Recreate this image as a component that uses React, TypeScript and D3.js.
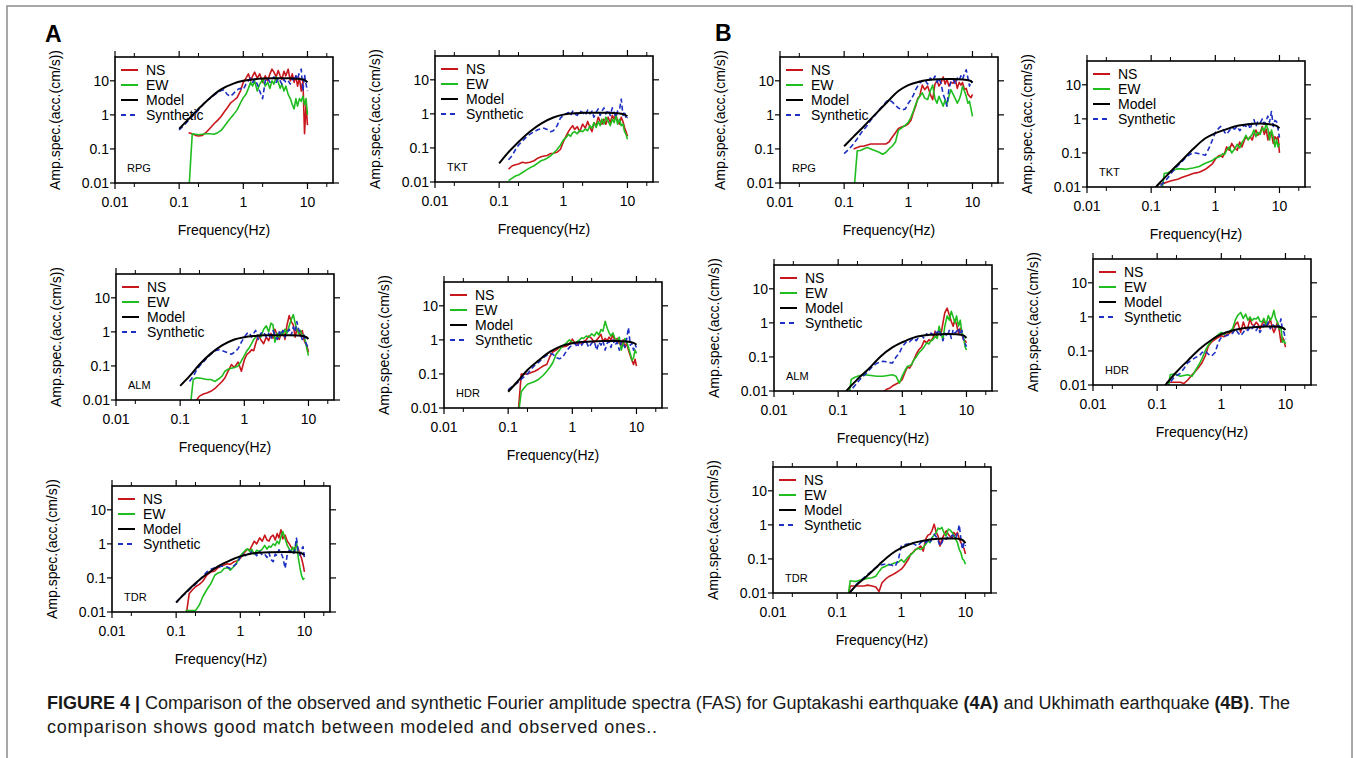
import React from 'react';
import * as d3 from 'd3';

// frequency grid (Hz) shared by the observed and synthetic spectra
const FREQ = [0.1, 0.12, 0.14, 0.16, 0.18, 0.2, 0.23, 0.26, 0.3, 0.35, 0.4, 0.45, 0.5, 0.56, 0.63, 0.7, 0.8, 0.9, 1, 1.1, 1.2, 1.3, 1.4, 1.5, 1.65, 1.8, 2, 2.2, 2.4, 2.6, 2.8, 3, 3.25, 3.5, 3.75, 4, 4.3, 4.6, 5, 5.4, 5.8, 6.2, 6.6, 7, 7.5, 8, 8.5, 9, 9.5, 10];
// frequency grid of the model curves
const MODEL_FREQ = [0.1, 0.14, 0.2, 0.3, 0.45, 0.7, 1, 1.5, 2, 3, 5, 7, 9, 10];

const X_TICKS = [0.01, 0.1, 1, 10];
const X_TICK_LABELS = ['0.01', '0.1', '1', '10'];
const X_MINOR = [0.02, 0.2, 2, 20];
const Y_TICKS = [0.01, 0.1, 1, 10];
const Y_TICK_LABELS = ['0.01', '0.1', '1', '10'];
const LEGEND = ['NS', 'EW', 'Model', 'Synthetic'];

// ---- Guptakashi earthquake (A) ----
const A_RPG_NS = [null, null, 0.3, 0.28, 0.25, 0.24, 0.25, 0.3, 0.4, 0.55, 0.7, 0.9, 1.2, 1.6, 2.2, 2.6, 3.2, 5, 9, 12, 16, 10, 14, 18, 12, 16, 9, 14, 10, 16, 22, 18, 13, 20, 14, 11, 19, 14, 22, 10, 16, 9, 14, 7, 12, 5, 10, 0.28, 2, 0.5];
const A_RPG_EW = [null, null, 0.004, 0.28, 0.27, 0.26, 0.27, 0.28, 0.28, 0.27, 0.3, 0.35, 0.45, 0.6, 0.8, 1.0, 1.4, 2.2, 3.2, 4, 6, 9, 7, 10, 5, 8, 11, 7, 9, 6, 10, 8, 13, 9, 6, 8, 5, 7, 4, 3, 2, 1.5, 3, 1.8, 3, 2.5, 3.5, 2, 3, 1];
const A_RPG_SYN = [0.36, 0.5, 0.7, 0.9, 1.1, 1.4, 1.9, 2.5, 3.0, 3.8, 4.6, 5.2, 5.5, 4.0, 3.5, 4.2, 5.5, 6, 5.5, 8, 10, 12, 9, 11, 8, 5, 3, 10, 12, 9, 11, 13, 9, 12, 10, 8, 11, 9, 10, 8, 12, 10, 14, 11, 18, 22, 5, 15, 8, 5];
const A_RPG_MODEL = [0.39, 0.75, 1.5, 3.1, 5.6, 8.3, 10, 11.2, 11.6, 11.8, 11.8, 11.5, 10.5, 9];

const A_TKT_NS = [null, null, 0.024, 0.03, 0.032, 0.034, 0.038, 0.036, 0.038, 0.042, 0.05, 0.055, 0.058, 0.06, 0.068, 0.07, 0.075, 0.09, 0.15, 0.22, 0.3, 0.38, 0.45, 0.35, 0.42, 0.3, 0.5, 0.38, 0.6, 0.4, 0.3, 0.55, 0.45, 0.8, 0.6, 0.5, 0.7, 0.5, 0.8, 0.55, 0.9, 0.7, 1.0, 0.6, 0.5, 0.8, 0.6, 0.4, 0.3, 0.22];
const A_TKT_EW = [null, null, 0.011, 0.013, 0.015, 0.016, 0.019, 0.022, 0.026, 0.03, 0.036, 0.042, 0.045, 0.05, 0.058, 0.07, 0.09, 0.12, 0.17, 0.2, 0.25, 0.22, 0.28, 0.3, 0.26, 0.33, 0.3, 0.36, 0.32, 0.45, 0.38, 0.55, 0.4, 0.6, 0.45, 0.7, 0.5, 0.8, 0.6, 0.45, 0.7, 0.55, 0.9, 0.5, 0.7, 0.45, 0.5, 0.3, 0.25, 0.18];
const A_TKT_SYN = [null, null, 0.045, 0.06, 0.09, 0.12, 0.16, 0.2, 0.25, 0.3, 0.34, 0.37, 0.38, 0.35, 0.3, 0.32, 0.45, 0.75, 0.9, 1.0, 1.1, 0.9, 1.2, 1.0, 0.9, 1.2, 1.1, 0.9, 1.3, 1.0, 1.2, 0.8, 1.1, 1.4, 0.9, 1.2, 1.5, 1.0, 1.3, 0.9, 1.5, 1.1, 0.8, 1.2, 1.3, 2.7, 0.9, 1.2, 0.7, 0.8];
const A_TKT_MODEL = [0.035, 0.075, 0.15, 0.3, 0.52, 0.78, 0.95, 1.05, 1.07, 1.08, 1.08, 1.05, 0.95, 0.85];

const A_ALM_NS = [null, null, 0.005, 0.008, 0.01, 0.013, 0.015, 0.016, 0.018, 0.022, 0.028, 0.035, 0.045, 0.07, 0.11, 0.09, 0.13, 0.07, 0.15, 0.22, 0.25, 0.3, 0.28, 0.45, 0.8, 0.6, 0.45, 0.7, 0.55, 0.9, 0.65, 1.2, 0.8, 0.6, 0.9, 1.1, 0.6, 1.5, 3.0, 2.0, 1.6, 0.7, 1.2, 1.0, 0.8, 1.1, 0.6, 0.45, 0.38, 0.25];
const A_ALM_EW = [null, null, 0.004, 0.04, 0.045, 0.044, 0.042, 0.04, 0.04, 0.035, 0.042, 0.05, 0.07, 0.08, 0.085, 0.09, 0.1, 0.14, 0.2, 0.28, 0.35, 0.45, 0.6, 0.7, 0.8, 0.7, 1.2, 1.5, 1.0, 1.8, 1.6, 0.5, 0.9, 0.7, 1.0, 0.8, 1.2, 0.9, 1.5, 2.3, 3.2, 1.8, 1.2, 0.9, 1.1, 0.75, 0.8, 0.5, 0.3, 0.2];
const A_ALM_SYN = [null, null, 0.035, 0.05, 0.075, 0.1, 0.13, 0.17, 0.22, 0.28, 0.3, 0.28, 0.26, 0.24, 0.22, 0.25, 0.32, 0.5, 0.7, 0.9, 0.95, 0.7, 0.9, 1.1, 0.6, 0.9, 1.0, 0.7, 0.9, 0.6, 1.1, 0.8, 0.6, 1.0, 0.8, 1.1, 0.7, 0.9, 1.2, 0.8, 1.4, 1.0, 2.0, 1.2, 0.9, 0.6, 0.8, 0.5, 0.4, 0.3];
const A_ALM_MODEL = [0.026, 0.05, 0.11, 0.23, 0.4, 0.6, 0.7, 0.76, 0.79, 0.8, 0.8, 0.78, 0.72, 0.62];

const A_HDR_NS = [null, null, 0.004, 0.1, 0.1, 0.1, 0.11, 0.12, 0.14, 0.17, 0.19, 0.33, 0.45, 0.5, 0.6, 0.62, 0.65, 0.75, 1.05, 0.8, 0.75, 0.85, 0.8, 0.9, 1.0, 1.3, 1.1, 0.85, 1.0, 1.2, 1.45, 0.9, 1.1, 0.95, 1.2, 1.0, 1.45, 0.9, 1.1, 0.8, 0.7, 1.0, 0.6, 0.8, 0.5, 0.35, 0.25, 0.19, 0.27, 0.17];
const A_HDR_EW = [null, null, 0.004, 0.03, 0.04, 0.05, 0.055, 0.06, 0.07, 0.09, 0.12, 0.16, 0.22, 0.38, 0.5, 0.65, 0.8, 1.0, 0.85, 0.8, 0.9, 1.0, 1.15, 1.1, 1.3, 1.2, 1.5, 1.3, 1.7, 1.4, 2.0, 1.8, 3.5, 2.2, 1.6, 1.3, 1.6, 1.1, 0.9, 1.2, 0.5, 0.8, 1.1, 0.9, 0.6, 0.4, 0.25, 0.3, 0.5, 0.4];
const A_HDR_SYN = [0.034, 0.045, 0.055, 0.07, 0.085, 0.1, 0.14, 0.18, 0.22, 0.3, 0.35, 0.4, 0.38, 0.3, 0.28, 0.3, 0.45, 0.6, 0.7, 0.8, 0.6, 0.9, 0.7, 0.85, 0.9, 0.6, 0.8, 0.9, 0.5, 0.85, 0.7, 0.95, 0.5, 0.8, 0.9, 0.6, 1.0, 0.7, 0.85, 0.5, 0.9, 0.8, 0.6, 1.0, 2.3, 0.7, 0.8, 0.5, 0.7, 0.6];
const A_HDR_MODEL = [0.03, 0.06, 0.13, 0.25, 0.45, 0.68, 0.8, 0.87, 0.9, 0.92, 0.92, 0.9, 0.82, 0.72];

const A_TDR_NS = [null, null, 0.006, 0.035, 0.045, 0.055, 0.065, 0.08, 0.12, 0.15, 0.16, 0.2, 0.22, 0.24, 0.26, 0.25, 0.3, 0.32, 0.38, 0.5, 0.6, 0.7, 0.65, 0.85, 1.2, 1.0, 1.5, 1.2, 1.8, 1.3, 1.2, 1.6, 1.8, 1.3, 2.0, 1.5, 2.6, 1.4, 1.8, 1.2, 1.0, 0.8, 0.7, 0.75, 0.9, 0.7, 0.5, 0.38, 0.25, 0.15];
const A_TDR_EW = [null, null, 0.011, 0.011, 0.011, 0.011, 0.016, 0.028, 0.045, 0.07, 0.12, 0.14, 0.15, 0.19, 0.2, 0.17, 0.22, 0.3, 0.45, 0.55, 0.65, 0.72, 0.6, 0.7, 0.5, 0.65, 0.6, 0.7, 0.9, 0.7, 0.85, 0.8, 1.0, 0.9, 1.2, 1.0, 1.6, 2.3, 1.4, 0.9, 0.7, 0.6, 0.8, 0.55, 1.2, 0.4, 0.2, 0.12, 0.09, 0.1];
const A_TDR_SYN = [0.019, 0.028, 0.035, 0.045, 0.055, 0.065, 0.085, 0.11, 0.15, 0.18, 0.2, 0.21, 0.22, 0.22, 0.21, 0.19, 0.23, 0.27, 0.42, 0.5, 0.45, 0.55, 0.5, 0.6, 0.55, 0.45, 0.6, 0.47, 0.5, 0.4, 0.55, 0.35, 0.3, 0.5, 0.45, 0.67, 0.55, 0.4, 0.19, 0.5, 0.65, 0.6, 0.5, 0.6, 1.47, 0.6, 0.47, 0.7, 0.83, 0.38];
const A_TDR_MODEL = [0.019, 0.037, 0.07, 0.13, 0.22, 0.33, 0.43, 0.52, 0.55, 0.57, 0.58, 0.57, 0.53, 0.47];

// ---- Ukhimath earthquake (B) ----
const B_RPG_NS = [null, null, 0.1, 0.11, 0.12, 0.12, 0.13, 0.14, 0.14, 0.14, 0.14, 0.14, 0.16, 0.22, 0.3, 0.4, 0.45, 0.48, 0.55, 0.7, 1.2, 1.8, 3.0, 3.5, 7.5, 5.5, 7, 4, 2.8, 8, 10, 7, 9, 13, 8, 11, 7, 9, 8.5, 11, 6, 9, 7.5, 9, 5.5, 6, 4, 3.5, 3.2, 4];
const B_RPG_EW = [null, null, 0.004, 0.088, 0.09, 0.1, 0.11, 0.1, 0.09, 0.08, 0.07, 0.08, 0.1, 0.12, 0.16, 0.35, 0.42, 0.5, 0.6, 0.85, 1.3, 2.0, 2.8, 3.5, 4.4, 3.1, 2.8, 5, 7.5, 3, 2.2, 3.5, 2.5, 1.8, 2.8, 2.0, 3.5, 5.5, 4, 3, 2.2, 2.8, 4, 6.9, 5, 3.5, 2.2, 2.5, 1.5, 0.9];
const B_RPG_SYN = [0.073, 0.1, 0.14, 0.2, 0.28, 0.36, 0.5, 0.7, 0.95, 1.4, 1.85, 2.4, 2.8, 2.4, 1.9, 1.6, 1.4, 1.5, 2.2, 2.8, 3.8, 5.5, 7, 8.5, 9.8, 11, 8, 12, 10, 13.8, 9, 12, 8, 4, 2.8, 1.8, 6, 9, 11, 8, 12, 10, 14, 11, 16, 21, 12, 7, 10, 8.7];
const B_RPG_MODEL = [0.12, 0.23, 0.45, 1.0, 2.2, 5, 7.5, 9.5, 10.5, 11.2, 11.3, 11, 10.2, 9];

const B_TKT_NS = [null, null, 0.012, 0.013, 0.014, 0.015, 0.016, 0.017, 0.019, 0.021, 0.023, 0.025, 0.026, 0.027, 0.03, 0.033, 0.04, 0.048, 0.065, 0.08, 0.085, 0.075, 0.1, 0.15, 0.12, 0.19, 0.14, 0.12, 0.21, 0.15, 0.22, 0.3, 0.25, 0.3, 0.24, 0.35, 0.47, 0.33, 0.4, 0.6, 0.35, 0.5, 0.24, 0.4, 0.38, 0.19, 0.3, 0.25, 0.3, 0.1];
const B_TKT_EW = [null, null, 0.004, 0.025, 0.026, 0.028, 0.032, 0.034, 0.034, 0.033, 0.035, 0.036, 0.038, 0.04, 0.045, 0.05, 0.055, 0.06, 0.07, 0.075, 0.08, 0.095, 0.09, 0.12, 0.15, 0.1, 0.13, 0.18, 0.14, 0.2, 0.25, 0.33, 0.24, 0.3, 0.35, 0.47, 0.3, 0.4, 0.35, 0.55, 0.45, 0.7, 0.5, 0.24, 0.47, 0.3, 0.15, 0.25, 0.15, 0.19];
const B_TKT_SYN = [null, null, 0.011, 0.014, 0.018, 0.024, 0.032, 0.042, 0.055, 0.075, 0.09, 0.1, 0.1, 0.095, 0.09, 0.085, 0.14, 0.24, 0.4, 0.5, 0.6, 0.55, 0.4, 0.35, 0.45, 0.55, 0.5, 0.6, 0.45, 0.55, 0.65, 0.6, 0.75, 0.5, 0.8, 0.95, 0.6, 0.85, 0.75, 1.0, 0.7, 0.9, 1.2, 0.8, 1.65, 0.6, 0.9, 0.83, 0.5, 0.28];
const B_TKT_MODEL = [0.007, 0.014, 0.028, 0.06, 0.13, 0.27, 0.38, 0.5, 0.6, 0.68, 0.73, 0.7, 0.62, 0.53];

const B_ALM_NS = [null, null, null, null, null, null, null, null, null, null, null, null, 0.009, 0.011, 0.012, 0.014, 0.016, 0.018, 0.022, 0.035, 0.05, 0.047, 0.06, 0.08, 0.12, 0.16, 0.2, 0.3, 0.26, 0.32, 0.3, 0.36, 0.57, 0.4, 0.6, 0.45, 1.0, 2.0, 2.7, 1.7, 1.1, 0.8, 1.25, 0.9, 0.5, 0.7, 0.45, 0.32, 0.3, 0.26];
const B_ALM_EW = [null, null, 0.004, 0.022, 0.025, 0.027, 0.029, 0.03, 0.029, 0.028, 0.027, 0.027, 0.027, 0.028, 0.029, 0.03, 0.027, 0.017, 0.028, 0.04, 0.053, 0.055, 0.06, 0.08, 0.1, 0.13, 0.16, 0.2, 0.26, 0.24, 0.3, 0.32, 0.4, 0.35, 0.8, 0.5, 0.32, 0.8, 1.6, 1.2, 2.2, 1.5, 1.0, 1.6, 0.8, 1.2, 0.5, 0.4, 0.2, 0.16];
const B_ALM_SYN = [null, null, 0.008, 0.011, 0.014, 0.018, 0.024, 0.03, 0.04, 0.055, 0.065, 0.07, 0.075, 0.072, 0.068, 0.066, 0.1, 0.13, 0.2, 0.25, 0.3, 0.28, 0.32, 0.36, 0.3, 0.38, 0.42, 0.35, 0.48, 0.4, 0.5, 0.45, 0.55, 0.5, 0.63, 0.45, 0.3, 0.5, 0.4, 0.6, 0.35, 0.63, 0.5, 0.55, 0.7, 0.45, 0.6, 0.32, 0.25, 0.2];
const B_ALM_MODEL = [0.005, 0.011, 0.022, 0.045, 0.1, 0.19, 0.27, 0.37, 0.42, 0.45, 0.47, 0.46, 0.43, 0.36];

const B_HDR_NS = [null, null, 0.012, 0.012, 0.012, 0.012, 0.012, 0.011, 0.014, 0.02, 0.026, 0.034, 0.045, 0.07, 0.14, 0.18, 0.22, 0.25, 0.28, 0.26, 0.3, 0.32, 0.35, 0.4, 0.6, 0.7, 0.35, 0.7, 0.45, 0.5, 0.87, 0.6, 0.55, 0.7, 0.6, 0.44, 0.6, 0.78, 0.55, 0.6, 0.87, 0.5, 0.35, 0.45, 0.7, 0.4, 0.18, 0.25, 0.2, 0.13];
const B_HDR_EW = [null, null, 0.004, 0.02, 0.021, 0.02, 0.018, 0.019, 0.02, 0.018, 0.028, 0.04, 0.06, 0.1, 0.15, 0.2, 0.25, 0.3, 0.35, 0.3, 0.36, 0.35, 0.4, 0.45, 0.8, 1.1, 1.35, 0.9, 1.2, 0.8, 1.0, 0.78, 0.9, 0.87, 1.0, 0.75, 0.7, 0.9, 0.6, 1.1, 0.8, 1.0, 1.55, 0.9, 0.7, 0.44, 0.5, 0.18, 0.2, 0.16];
const B_HDR_SYN = [null, null, 0.008, 0.012, 0.016, 0.019, 0.022, 0.03, 0.045, 0.055, 0.065, 0.07, 0.09, 0.1, 0.08, 0.07, 0.09, 0.18, 0.25, 0.27, 0.28, 0.3, 0.31, 0.33, 0.44, 0.35, 0.28, 0.35, 0.44, 0.4, 0.5, 0.45, 0.55, 0.4, 0.5, 0.35, 0.45, 0.6, 0.5, 0.7, 0.45, 0.6, 0.55, 0.45, 0.55, 0.5, 0.87, 0.4, 0.35, 0.22];
const B_HDR_MODEL = [0.005, 0.011, 0.024, 0.052, 0.11, 0.21, 0.31, 0.4, 0.45, 0.49, 0.52, 0.52, 0.48, 0.41];

const B_TDR_NS = [null, null, 0.004, 0.016, 0.016, 0.016, 0.016, 0.016, 0.017, 0.016, 0.015, 0.011, 0.02, 0.025, 0.03, 0.033, 0.038, 0.044, 0.05, 0.062, 0.08, 0.1, 0.14, 0.15, 0.19, 0.2, 0.24, 0.17, 0.38, 0.5, 0.53, 0.67, 1.05, 0.6, 0.47, 0.24, 0.38, 0.5, 0.67, 0.53, 0.45, 0.42, 0.6, 0.5, 0.6, 0.38, 0.3, 0.24, 0.2, 0.14];
const B_TDR_EW = [null, null, 0.004, 0.023, 0.022, 0.022, 0.024, 0.025, 0.027, 0.028, 0.031, 0.043, 0.055, 0.06, 0.068, 0.07, 0.077, 0.08, 0.096, 0.08, 0.1, 0.12, 0.13, 0.15, 0.18, 0.21, 0.19, 0.22, 0.27, 0.34, 0.3, 0.42, 0.5, 0.6, 0.8, 0.75, 0.84, 0.6, 0.47, 0.75, 0.7, 0.6, 0.5, 0.38, 0.3, 0.19, 0.15, 0.1, 0.09, 0.07];
const B_TDR_SYN = [null, null, 0.007, 0.011, 0.014, 0.018, 0.023, 0.028, 0.035, 0.045, 0.055, 0.062, 0.068, 0.07, 0.068, 0.066, 0.06, 0.095, 0.24, 0.26, 0.27, 0.28, 0.3, 0.29, 0.26, 0.24, 0.3, 0.34, 0.3, 0.35, 0.3, 0.4, 0.53, 0.45, 0.35, 0.24, 0.3, 0.42, 0.38, 0.45, 0.42, 0.5, 0.47, 0.4, 0.55, 1.0, 0.38, 0.19, 0.3, 0.24];
const B_TDR_MODEL = [0.004, 0.008, 0.017, 0.033, 0.068, 0.14, 0.21, 0.29, 0.33, 0.38, 0.4, 0.4, 0.36, 0.29];

const STATIONS = [
  { id: 'a-rpg', name: 'RPG', ns: A_RPG_NS, ew: A_RPG_EW, syn: A_RPG_SYN, model: A_RPG_MODEL },
  { id: 'a-tkt', name: 'TKT', ns: A_TKT_NS, ew: A_TKT_EW, syn: A_TKT_SYN, model: A_TKT_MODEL },
  { id: 'a-alm', name: 'ALM', ns: A_ALM_NS, ew: A_ALM_EW, syn: A_ALM_SYN, model: A_ALM_MODEL },
  { id: 'a-hdr', name: 'HDR', ns: A_HDR_NS, ew: A_HDR_EW, syn: A_HDR_SYN, model: A_HDR_MODEL },
  { id: 'a-tdr', name: 'TDR', ns: A_TDR_NS, ew: A_TDR_EW, syn: A_TDR_SYN, model: A_TDR_MODEL },
  { id: 'b-rpg', name: 'RPG', ns: B_RPG_NS, ew: B_RPG_EW, syn: B_RPG_SYN, model: B_RPG_MODEL },
  { id: 'b-tkt', name: 'TKT', ns: B_TKT_NS, ew: B_TKT_EW, syn: B_TKT_SYN, model: B_TKT_MODEL },
  { id: 'b-alm', name: 'ALM', ns: B_ALM_NS, ew: B_ALM_EW, syn: B_ALM_SYN, model: B_ALM_MODEL },
  { id: 'b-hdr', name: 'HDR', ns: B_HDR_NS, ew: B_HDR_EW, syn: B_HDR_SYN, model: B_HDR_MODEL },
  { id: 'b-tdr', name: 'TDR', ns: B_TDR_NS, ew: B_TDR_EW, syn: B_TDR_SYN, model: B_TDR_MODEL },
];

// panel frame positions (top-left corner of each plot box)
const LAYOUT = {
  'a-rpg': [115, 57], 'a-tkt': [435, 56], 'a-alm': [116, 274], 'a-hdr': [444, 282], 'a-tdr': [112, 486],
  'b-rpg': [780, 57], 'b-tkt': [1087, 61], 'b-alm': [774, 265], 'b-hdr': [1093, 259], 'b-tdr': [773, 467],
};
const W = 218;
const H = 126;
const FONT = '"Liberation Sans", Arial, Helvetica, sans-serif';
const C_NS = '#c8161d';
const C_EW = '#1fbd1f';
const C_SYN = '#1d2fc4';

function Panel({ st }) {
  const [px, py] = LAYOUT[st.id];
  const x = d3.scaleLog().domain([0.01, 25]).range([px, px + W]);
  const y = d3.scaleLog().domain([0.01, 50]).range([py + H, py]);
  const obs = d3.line().defined(d => d[1] != null).x(d => x(d[0])).y(d => y(d[1]));
  const smooth = d3.line().curve(d3.curveMonotoneX).x(d => x(d[0])).y(d => y(d[1]));
  const pairs = arr => FREQ.map((f, i) => [f, arr[i]]);
  const modelPts = MODEL_FREQ.map((f, i) => [f, st.model[i]]);
  const clip = `clip-${st.id}`;
  const legendColors = [C_NS, C_EW, '#000', C_SYN];
  return (
    <g fontFamily={FONT}>
      <clipPath id={clip}><rect x={px} y={py} width={W} height={H} /></clipPath>
      <g clipPath={`url(#${clip})`} fill="none" strokeLinejoin="round">
        <path d={obs(pairs(st.ns))} stroke={C_NS} strokeWidth={1.6} />
        <path d={obs(pairs(st.ew))} stroke={C_EW} strokeWidth={1.6} />
        <path d={obs(pairs(st.syn))} stroke={C_SYN} strokeWidth={1.6} strokeDasharray="5,3" />
        <path d={smooth(modelPts)} stroke="#000" strokeWidth={2} />
      </g>
      <rect x={px} y={py} width={W} height={H} fill="none" stroke="#000" strokeWidth={1.6} />
      {/* ticks on all four sides, pointing outward */}
      {X_TICKS.map(t => (
        <g key={'xt' + t}>
          <line x1={x(t)} x2={x(t)} y1={py + H} y2={py + H + 6} stroke="#000" strokeWidth={1.2} />
          <line x1={x(t)} x2={x(t)} y1={py} y2={py - 6} stroke="#000" strokeWidth={1.2} />
        </g>
      ))}
      {X_MINOR.map(t => (
        <g key={'xm' + t}>
          <line x1={x(t)} x2={x(t)} y1={py + H} y2={py + H + 4} stroke="#000" strokeWidth={1} />
          <line x1={x(t)} x2={x(t)} y1={py} y2={py - 4} stroke="#000" strokeWidth={1} />
        </g>
      ))}
      {Y_TICKS.map(t => (
        <g key={'yt' + t}>
          <line x1={px} x2={px - 5} y1={y(t)} y2={y(t)} stroke="#000" strokeWidth={1.2} />
          <line x1={px + W} x2={px + W + 6} y1={y(t)} y2={y(t)} stroke="#000" strokeWidth={1.2} />
        </g>
      ))}
      {X_TICKS.map((t, i) => (
        <text key={'xl' + t} x={x(t)} y={py + H + 24} fontSize={14} textAnchor="middle">{X_TICK_LABELS[i]}</text>
      ))}
      {Y_TICKS.map((t, i) => (
        <text key={'yl' + t} x={px - 6} y={y(t)} dy="0.35em" fontSize={14} textAnchor="end">{Y_TICK_LABELS[i]}</text>
      ))}
      <text x={px + W / 2} y={py + H + 52} fontSize={14} textAnchor="middle">Frequency(Hz)</text>
      <text transform={`translate(${px - 60},${py + H / 2}) rotate(-90)`} dy="0.35em" fontSize={14} textAnchor="middle">Amp.spec.(acc.(cm/s))</text>
      {LEGEND.map((name, i) => {
        const ly = py + 13 + i * 15;
        return (
          <g key={name}>
            <line x1={px + 6} x2={px + 23} y1={ly} y2={ly} stroke={legendColors[i]} strokeWidth={2}
              strokeDasharray={i === 3 ? '5,4' : null} />
            <text x={px + 31} y={ly} dy="0.36em" fontSize={14}>{name}</text>
          </g>
        );
      })}
      <text x={px + 12} y={py + H - 11} fontSize={11}>{st.name}</text>
    </g>
  );
}

export default function App() {
  return (
    <svg width={1356} height={758} style={{ position: 'absolute', left: 0, top: 0, background: '#fff' }}>
      <rect x={7} y={6} width={1345} height={780} fill="none" stroke="#8c8c8c" strokeWidth={1.5} />
      <text x={45} y={42} fontFamily={FONT} fontWeight="bold" fontSize={23}>A</text>
      <text x={715} y={41} fontFamily={FONT} fontWeight="bold" fontSize={23}>B</text>
      {STATIONS.map(st => <Panel key={st.id} st={st} />)}
      <g fontFamily={FONT} fontSize={18} fill="#1a1a1a">
        <text x={47} y={709} textLength={1243}>
          <tspan fontWeight="bold">FIGURE 4 | </tspan>
          Comparison of the observed and synthetic Fourier amplitude spectra (FAS) for Guptakashi earthquake <tspan fontWeight="bold">(4A)</tspan> and Ukhimath earthquake <tspan fontWeight="bold">(4B)</tspan>. The
        </text>
        <text x={47} y={733} textLength={610}>comparison shows good match between modeled and observed ones..</text>
      </g>
    </svg>
  );
}
